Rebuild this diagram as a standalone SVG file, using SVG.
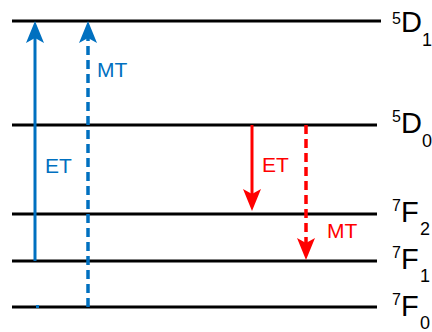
<svg xmlns="http://www.w3.org/2000/svg" width="432" height="332" viewBox="0 0 432 332">
<style>
.lvl{stroke:#000;stroke-width:3;fill:none}
.lab{font-family:"Liberation Sans",Arial,sans-serif;fill:#000}
.big{font-size:29px}
.sup{font-size:16px}
.small{font-size:18px}
.blue{stroke:#0070C0;stroke-width:3;fill:none}
.red{stroke:#FF0000;stroke-width:3;fill:none}
.dash{stroke-dasharray:9 5;stroke-width:3.5}
.tb{font-family:"Liberation Sans",Arial,sans-serif;font-size:21px;fill:#0070C0}
.tr{font-family:"Liberation Sans",Arial,sans-serif;font-size:21px;fill:#FF0000}
</style>
<defs>
<marker id="hb" markerUnits="userSpaceOnUse" markerWidth="24" markerHeight="22" refX="5" refY="11" orient="auto" viewBox="0 0 24 22">
<path d="M0,2 L22,11 L0,20 L5,11 Z" fill="#0070C0"/>
</marker>
<marker id="hr" markerUnits="userSpaceOnUse" markerWidth="24" markerHeight="22" refX="5" refY="11" orient="auto" viewBox="0 0 24 22">
<path d="M0,2 L22,11 L0,20 L5,11 Z" fill="#FF0000"/>
</marker>
</defs>
<g id="level-5D1">
<line class="lvl" x1="12" y1="21" x2="381" y2="21"/>
<text class="lab"><tspan class="sup" x="392" y="24">5</tspan><tspan class="big" x="401" y="32">D</tspan><tspan class="small" x="422" y="46">1</tspan></text>
</g>
<g id="level-5D0">
<line class="lvl" x1="12" y1="125" x2="377" y2="125"/>
<text class="lab"><tspan class="sup" x="392" y="122">5</tspan><tspan class="big" x="401" y="133">D</tspan><tspan class="small" x="422" y="147">0</tspan></text>
</g>
<g id="level-7F2">
<line class="lvl" x1="12" y1="214" x2="377" y2="214"/>
<text class="lab"><tspan class="sup" x="392" y="211">7</tspan><tspan class="big" x="401" y="222">F</tspan><tspan class="small" x="420" y="235">2</tspan></text>
</g>
<g id="level-7F1">
<line class="lvl" x1="12" y1="261" x2="377" y2="261"/>
<text class="lab"><tspan class="sup" x="392" y="258">7</tspan><tspan class="big" x="401" y="269">F</tspan><tspan class="small" x="420" y="282">1</tspan></text>
</g>
<g id="level-7F0">
<line class="lvl" x1="12" y1="307" x2="377" y2="307"/>
<text class="lab"><tspan class="sup" x="392" y="305">7</tspan><tspan class="big" x="401" y="316">F</tspan><tspan class="small" x="420" y="329">0</tspan></text>
</g>
<g id="connectors">
<line class="blue" x1="35" y1="261" x2="35" y2="38" marker-end="url(#hb)"/>
<line class="blue dash" x1="88" y1="307" x2="88" y2="38" marker-end="url(#hb)"/>
<rect x="36" y="305" width="3" height="3" fill="#0070C0"/>
<line class="red" x1="252" y1="125" x2="252" y2="194" marker-end="url(#hr)"/>
<line class="red dash" x1="306" y1="125" x2="306" y2="243" marker-end="url(#hr)"/>
<text class="tb" x="97" y="77">MT</text>
<text class="tb" x="45" y="173">ET</text>
<text class="tr" x="262" y="172">ET</text>
<text class="tr" x="327" y="238">MT</text>
</g>
</svg>
